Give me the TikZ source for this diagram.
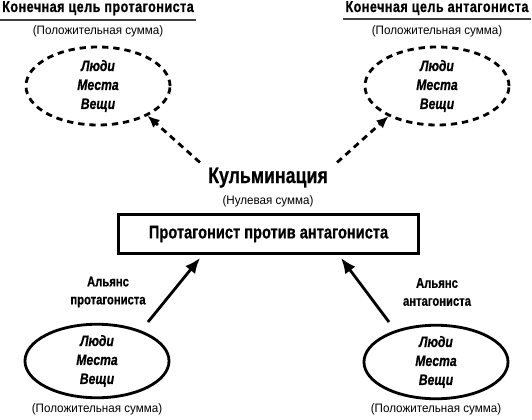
\documentclass[tikz,border=0pt]{standalone}
\usepackage{fontspec}
\setmainfont{Liberation Sans}[FakeStretch=0.8, BoldFeatures={FakeBold=0.7}, BoldItalicFeatures={FakeBold=0.7}]
\newfontfamily\sumfont{Liberation Sans}[FakeStretch=0.95]
\newfontfamily\headfont{Liberation Sans}[FakeStretch=0.8, LetterSpace=3, BoldFeatures={FakeBold=0.7}]
\usetikzlibrary{arrows.meta,positioning,shapes.geometric,calc}

\begin{document}
\begin{tikzpicture}[
  x=0.025cm, y=-0.025cm,
  head/.style={font=\headfont\bfseries\fontsize{11.2}{13}\selectfont, inner sep=0pt},
  rule/.style={draw=black!75, line width=1.4pt},
  sumtxt/.style={font=\sumfont\fontsize{8.7}{10}\selectfont, inner sep=0pt},
  goal/.style={ellipse, draw, line width=2pt, dash pattern=on 4.5pt off 3.5pt, minimum width=3.6cm, minimum height=1.95cm, inner sep=0pt, align=center, font=\bfseries\itshape\fontsize{10.8}{13.5}\selectfont},
  ally/.style={ellipse, draw, line width=2pt, minimum width=3.6cm, minimum height=1.78cm, inner sep=0pt, align=center, font=\bfseries\itshape\fontsize{10.8}{13.5}\selectfont},
  versus/.style={rectangle, draw, line width=2pt, minimum width=7.5cm, minimum height=0.975cm, inner sep=0pt, font=\bfseries\fontsize{13}{15}\selectfont},
  lab/.style={align=center, inner sep=0pt, font=\bfseries\fontsize{10}{12.8}\selectfont},
  dasharr/.style={line width=2pt, dash pattern=on 4.5pt off 3.5pt, -{Latex[length=8.5pt,width=7.5pt,sep=0pt]}},
  solidarr/.style={line width=2pt, -{Latex[length=11pt,width=9pt]}}
]
  \useasboundingbox (0,0) rectangle (532,420);

  % goals at the top
  \node[head, anchor=base] (lhead) at (98,12) {Конечная цель протагониста};
  \node[head, anchor=base] (rhead) at (437,12) {Конечная цель антагониста};
  \draw[rule] ($(lhead.south west)+(-2,4)$) -- ($(lhead.south east)+(2,4)$);
  \draw[rule] ($(rhead.south west)+(-2,4)$) -- ($(rhead.south east)+(2,4)$);
  \node[sumtxt, anchor=base] (lsum) at (98,35) {(Положительная сумма)};
  \node[sumtxt, anchor=base] (rsum) at (437,35) {(Положительная сумма)};
  \node[goal] (lgoal) at (98,86) {Люди\\Места\\Вещи};
  \node[goal] (rgoal) at (437,86) {Люди\\Места\\Вещи};

  % climax and conflict
  \node[anchor=base, inner sep=0pt, font=\bfseries\fontsize{15.8}{18}\selectfont] (klim) at (268,183) {Кульминация};
  \node[sumtxt, anchor=base] (zsum) at (268,204) {(Нулевая сумма)};
  \node[versus] (vs) at (268.5,234) {Протагонист против антагониста};

  % alliances
  \node[lab] (lallylab) at (108,292) {Альянс\\протагониста};
  \node[lab] (rallylab) at (437,292) {Альянс\\антагониста};
  \node[ally] (lally) at (97,361) {Люди\\Места\\Вещи};
  \node[ally] (rally) at (436,362) {Люди\\Места\\Вещи};
  \node[sumtxt, anchor=base] (lbsum) at (97,412) {(Положительная сумма)};
  \node[sumtxt, anchor=base] (rbsum) at (436,412) {(Положительная сумма)};

  \draw[dasharr] ($(klim.north west)+(-8,-5)$) -- (lgoal.-31);
  \draw[dasharr] ($(klim.north east)+(9,-5)$) -- (rgoal.-148);
  \draw[solidarr] ($(lally)+(51,-39)$) -- ($(vs.south west)+(83,3)$);
  \draw[solidarr] ($(rally)+(-47,-40)$) -- ($(vs.south east)+(-79,3)$);
\end{tikzpicture}
\end{document}
